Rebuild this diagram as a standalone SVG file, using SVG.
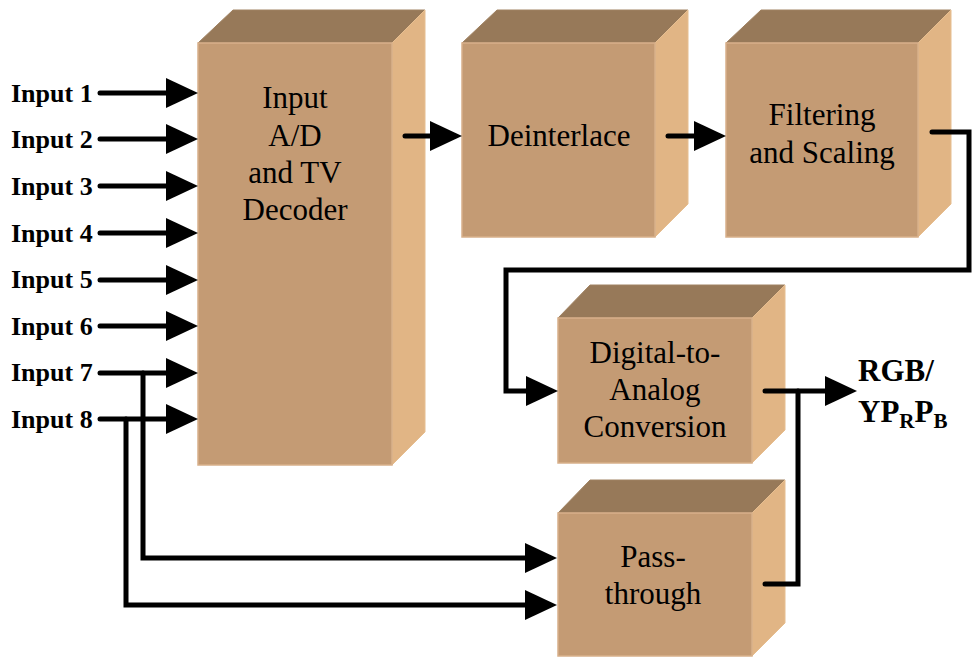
<svg xmlns="http://www.w3.org/2000/svg" width="972" height="658" viewBox="0 0 972 658">
<defs>
<style>
.front{fill:#C49B74;stroke:#D8B08A;stroke-width:1.5}
.top{fill:#977959;stroke:#A08262;stroke-width:1}
.side{fill:#E1B585;stroke:#E6BE90;stroke-width:1}
.bt{font-family:"Liberation Serif","Times New Roman",serif;font-size:31px;fill:#000;text-anchor:middle}
.lab{font-family:"Liberation Serif","Times New Roman",serif;font-size:26px;font-weight:bold;fill:#000}
.out{font-family:"Liberation Serif","Times New Roman",serif;font-size:31px;font-weight:bold;fill:#000}
.wire{fill:none;stroke:#000;stroke-width:5;stroke-linecap:round;stroke-linejoin:miter}
.arr{fill:none;stroke:#000;stroke-width:5;stroke-linecap:round;marker-end:url(#ah)}
</style>
<marker id="ah" markerUnits="userSpaceOnUse" markerWidth="34" markerHeight="32" refX="12" refY="15" orient="auto">
<path d="M0,0 L32,15 L0,30 z" fill="#000"/>
</marker>
</defs>
<rect width="972" height="658" fill="#fff"/>

<g id="node-decoder">
<polygon class="top" points="198,43 233,10 425,10 392,43"/>
<polygon class="side" points="392,43 425,10 425,432 392,465"/>
<rect class="front" x="198" y="43" width="194" height="422"/>
<text class="bt" x="295" y="108">Input</text>
<text class="bt" x="295" y="146">A/D</text>
<text class="bt" x="295" y="183">and TV</text>
<text class="bt" x="295" y="220">Decoder</text>
</g>

<g id="node-deinterlace">
<polygon class="top" points="462,43 497,10 688,10 655,43"/>
<polygon class="side" points="655,43 688,10 688,204 655,237"/>
<rect class="front" x="462" y="43" width="193" height="194"/>
<text class="bt" x="559" y="146">Deinterlace</text>
</g>

<g id="node-filtering">
<polygon class="top" points="726,43 761,10 951,10 918,43"/>
<polygon class="side" points="918,43 951,10 951,204 918,237"/>
<rect class="front" x="726" y="43" width="192" height="194"/>
<text class="bt" x="822" y="125">Filtering</text>
<text class="bt" x="822" y="163">and Scaling</text>
</g>

<g id="node-dac">
<polygon class="top" points="558,318 590,285 785,285 752,318"/>
<polygon class="side" points="752,318 785,285 785,430 752,463"/>
<rect class="front" x="558" y="318" width="194" height="145"/>
<text class="bt" x="655" y="363">Digital-to-</text>
<text class="bt" x="655" y="400">Analog</text>
<text class="bt" x="655" y="437">Conversion</text>
</g>

<g id="node-passthrough">
<polygon class="top" points="558,513 590,480 785,480 752,513"/>
<polygon class="side" points="752,513 785,480 785,623 752,656"/>
<rect class="front" x="558" y="513" width="194" height="143"/>
<text class="bt" x="653" y="567">Pass-</text>
<text class="bt" x="653" y="604">through</text>
</g>

<g id="labels">
<text class="lab" x="11" y="102">Input 1</text>
<text class="lab" x="11" y="148">Input 2</text>
<text class="lab" x="11" y="195">Input 3</text>
<text class="lab" x="11" y="242">Input 4</text>
<text class="lab" x="11" y="288">Input 5</text>
<text class="lab" x="11" y="335">Input 6</text>
<text class="lab" x="11" y="381">Input 7</text>
<text class="lab" x="11" y="428">Input 8</text>
<text class="out" x="858" y="381">RGB/</text>
<text class="out" x="858" y="422">YP<tspan font-size="21" dy="6">R</tspan><tspan dy="-6">P</tspan><tspan font-size="21" dy="6">B</tspan></text>
</g>

<g id="connectors">
<path class="arr" d="M100,93 H178"/>
<path class="arr" d="M100,139 H178"/>
<path class="arr" d="M100,186 H178"/>
<path class="arr" d="M100,233 H178"/>
<path class="arr" d="M100,280 H178"/>
<path class="arr" d="M100,326 H178"/>
<path class="arr" d="M100,373 H178"/>
<path class="arr" d="M100,419 H178"/>
<path class="arr" d="M143,373 V558 H537"/>
<path class="arr" d="M126,419 V605 H537"/>
<path class="arr" d="M405,136 H442"/>
<path class="arr" d="M668,136 H706"/>
<path class="arr" d="M932,132 H969 V270 H506 V391 H538"/>
<path class="arr" d="M765,391 H837"/>
<path class="wire" d="M798,391 V584 H765"/>
</g>
</svg>
